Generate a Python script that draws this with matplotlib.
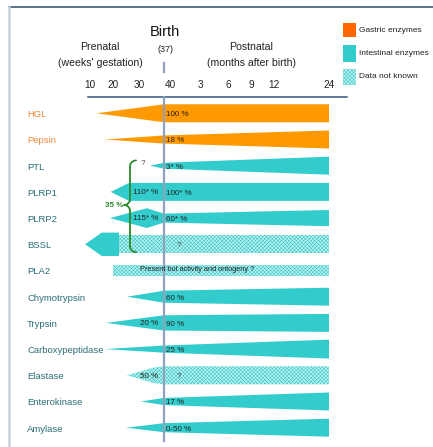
import numpy as np
import matplotlib
matplotlib.use('Agg')
import matplotlib.pyplot as plt
from matplotlib.patches import Polygon, Rectangle

plt.rcParams['font.family'] = ['Liberation Sans', 'DejaVu Sans']
plt.rcParams['hatch.linewidth'] = 0.4


def months(m):
    # postnatal months -> weeks of age counted from conception (birth at 37 wk)
    return 37 + m * 52 / 12


BIRTH = 37
END = months(24)

# ---- data -----------------------------------------------------------------
enzymes = ['HGL', 'Pepsin', 'PTL', 'PLRP1', 'PLRP2', 'BSSL', 'PLA2',
           'Chymotrypsin', 'Trypsin', 'Carboxypeptidase', 'Elastase',
           'Enterokinase', 'Amylase']
group = ['gastric', 'gastric'] + ['intestinal'] * 11

# activity profile: age (weeks) and relative band thickness
profile_age = [
    [12.9, BIRTH, END],
    [16.5, BIRTH, END],
    [33.1, BIRTH, END],
    [19.0, 27.0, 27.0, END],
    [18.7, 32.2, BIRTH, END],
    [7.8, 15.1, 22.3, 22.3, END],
    [20.0, END],
    [25.4, BIRTH, END],
    [17.0, BIRTH, END],
    [16.5, BIRTH, END],
    [25.4, 34.0, BIRTH, END],
    [30.5, BIRTH, END],
    [25.0, BIRTH, END],
]
profile_level = [
    [0, 1.0, 1.0],
    [0, 0.45, 1.0],
    [0, 0.33, 1.0],
    [0, 1.12, 1.0, 1.0],
    [0, 1.1, 0.5, 0.9],
    [0, 1.3, 1.3, 1.0, 1.0],
    [0.62, 0.62],
    [0, 0.67, 1.0],
    [0, 0.85, 1.0],
    [0, 0.4, 1.05],
    [0, 0.85, 1.0, 1.0],
    [0, 0.4, 1.0],
    [0, 0.5, 1.0],
]
unknown_from = [None, None, None, None, None, 22.3, 20.0,
                None, None, None, 25.4, None, None]
pct_prenatal = ['', '', '?', '110* %', '115* %', '', '', '', '20 %', '',
                '50 %', '', '']
pct_postnatal = ['100 %', '18 %', '3* %', '100* %', '60* %', '?', '',
                 '60 %', '90 %', '25 %', '?', '17 %', '0-50 %']
pla2_note = 'Present but activity and ontogeny ?'

tick_ages = [10, 20, 30, 40, months(3), months(6), months(9), months(12), months(24)]
tick_labels = ['10', '20', '30', '40', '3', '6', '9', '12', '24']

legend_labels = ['Gastric enzymes', 'Intestinal enzymes', 'Data not known']

# ---- style / layout -------------------------------------------------------
W, H = 433, 447
ORANGE = '#FF9900'
ORANGE_LEG = '#FF6600'
TEAL = '#33CCCC'
UNKNOWN_FACE = '#C6F0F0'
LBL_ORANGE = '#F28A3A'
LBL_TEAL = '#2B6E76'
GREEN = '#2A8A2A'
ROW0, STEP = 113.3, 26.2      # pixel y of first row, row spacing
HALF = 9.0 / STEP             # half band height in rows
FS_ROW = 6.8
FS_PCT = 5.8
UNKNOWN_HATCH = 'xxxxxxxxx'

# piecewise time axis (age in weeks -> pixel)
anchor_age = np.array([-30, 10, 20, 30, 37, 40, months(3), months(6),
                       months(9), months(12), months(24), 250])
anchor_px = np.array([0, 90, 113, 139, 164, 170, 200, 228, 251, 274, 329, 443])


def fwd(a):
    return np.interp(a, anchor_age, anchor_px)


def inv(p):
    return np.interp(p, anchor_px, anchor_age)


def fy(py):
    return 1 - py / H


fig = plt.figure(figsize=(W / 100, H / 100), dpi=100)
ax = fig.add_axes([0, 0, 1, 1])
ax.set_xscale('function', functions=(fwd, inv))
ax.set_xlim(inv(0), inv(W))
ax.set_ylim((H - ROW0) / STEP, -ROW0 / STEP)
ax.axis('off')
xt = ax.get_xaxis_transform()


def band(ages, lev, row):
    ages = np.asarray(ages, float)
    lev = np.asarray(lev, float)
    top = row - HALF * lev
    bot = row + HALF * lev
    return list(zip(ages, top)) + list(zip(ages[::-1], bot[::-1]))


for i, name in enumerate(enzymes):
    ages = profile_age[i]
    lev = profile_level[i]
    color = ORANGE if group[i] == 'gastric' else TEAL
    u = unknown_from[i]
    if u is None:
        solid = (ages, lev)
        hatch = None
    else:
        k0 = [k for k, a in enumerate(ages) if a == u]
        solid = (ages[:k0[0] + 1], lev[:k0[0] + 1])
        hatch = (ages[k0[-1]:], lev[k0[-1]:])
    if len(solid[0]) > 1:
        ax.add_patch(Polygon(band(*solid, i), closed=True, facecolor=color,
                             edgecolor='none', zorder=2))
    if hatch is not None:
        ax.add_patch(Polygon(band(*hatch, i), closed=True,
                             facecolor=UNKNOWN_FACE, edgecolor=TEAL,
                             hatch=UNKNOWN_HATCH, lw=0, zorder=2))

    lc = LBL_ORANGE if group[i] == 'gastric' else LBL_TEAL
    ax.text(inv(27), i + 0.05, name, ha='left', va='center', fontsize=FS_ROW,
            color=lc, zorder=5)

    pre = pct_prenatal[i]
    if pre == '?':
        ax.text(inv(143), i - 0.08, pre, ha='center', va='center',
                fontsize=FS_PCT, color='#444444', zorder=5)
    elif pre:
        ax.text(inv(158), i + 0.03, pre, ha='right', va='center',
                fontsize=FS_PCT, color='#222222', zorder=5)
    post = pct_postnatal[i]
    if post == '?':
        ax.text(inv(179), i + 0.05, post, ha='center', va='center',
                fontsize=FS_PCT, color='#444444', zorder=5)
    elif post:
        ax.text(inv(166), i + 0.05, post, ha='left', va='center',
                fontsize=FS_PCT, color='#222222', zorder=5)

ax.text(inv(197), enzymes.index('PLA2') - 0.02, pla2_note, ha='center',
        va='center', fontsize=5.3, color='#222222', zorder=5)

# birth line, time axis and ticks
ax.plot([BIRTH, BIRTH], [fy(97), fy(441)], transform=xt, color='#8FA1BC',
        lw=1.6, zorder=3)
ax.plot([BIRTH, BIRTH], [fy(63), fy(72)], transform=xt, color='#8FA1BC',
        lw=1.6)
ax.plot([inv(88), inv(347)], [fy(97), fy(97)], transform=xt,
        color='#34557F', lw=1.1)
for a, t in zip(tick_ages, tick_labels):
    ax.text(a, fy(85), t, transform=xt, ha='center', va='center',
            fontsize=7.2, color='#222222')

# header
fig.text(165 / W, fy(32), 'Birth', ha='center', va='center', fontsize=10.5,
         color='#111111')
fig.text(165 / W, fy(49), '(37)', ha='center', va='center', fontsize=6.5,
         color='#222222')
fig.text(100 / W, fy(46.5), 'Prenatal', ha='center', va='center',
         fontsize=7.6, color='#222222')
fig.text(100 / W, fy(63), "(weeks' gestation)", ha='center', va='center',
         fontsize=7.6, color='#222222')
fig.text(251 / W, fy(46.5), 'Postnatal', ha='center', va='center',
         fontsize=7.6, color='#222222')
fig.text(251 / W, fy(63), '(months after birth)', ha='center', va='center',
         fontsize=7.6, color='#222222')

# frame lines
fig.add_artist(plt.Line2D([9 / W, 1], [fy(6.5), fy(6.5)], color='#2E4A6E',
                          lw=1.1))
fig.add_artist(plt.Line2D([9 / W, 9 / W], [fy(7), 0], color='#C8D2DF',
                          lw=1.8))

# legend
leg_y = [(23, 37), (45, 62), (69, 85)]
for (y0, y1), lab, k in zip(leg_y, legend_labels, range(3)):
    if k == 2:
        r = Rectangle((343 / W, fy(y1)), 13 / W, (y1 - y0) / H,
                      transform=fig.transFigure, facecolor=UNKNOWN_FACE,
                      edgecolor=TEAL, hatch=UNKNOWN_HATCH, lw=0)
    else:
        r = Rectangle((343 / W, fy(y1)), 13 / W, (y1 - y0) / H,
                      transform=fig.transFigure,
                      facecolor=[ORANGE_LEG, TEAL][k], edgecolor='none')
    fig.add_artist(r)
    fig.text(359 / W, fy((y0 + y1) / 2), lab, ha='left', va='center',
             fontsize=6.0, color='#222222')

# brace grouping the lipases
bx = 130.0
y_top = ROW0 + (2 - 0.2) * STEP
y_bot = ROW0 + (5 + 0.3) * STEP
y_mid = ROW0 + 3.5 * STEP
r = 6.0
t = np.linspace(0, np.pi / 2, 12)
pts = [(bx + r * (1 - np.cos(tt)), y_top + r * (1 - np.sin(tt))) for tt in t[::-1]]
pts += [(bx - r * (1 - np.cos(tt)), y_mid - r + r * np.sin(tt)) for tt in t]
pts += [(bx - r * (1 - np.cos(tt)), y_mid + r - r * np.sin(tt)) for tt in t[::-1]]
pts += [(bx + r * (1 - np.cos(tt)), y_bot - r * (1 - np.sin(tt))) for tt in t]
px = np.array([p[0] for p in pts])
py = np.array([p[1] for p in pts])
ax.plot(inv(px), (py - ROW0) / STEP, color=GREEN, lw=1.3, zorder=4,
        solid_capstyle='round')
ax.text(inv(114.5), (y_mid - ROW0) / STEP, '35 %', ha='center', va='center',
        fontsize=5.8, color=GREEN, fontweight='bold', zorder=5)

fig.savefig('out.png', dpi=100)
